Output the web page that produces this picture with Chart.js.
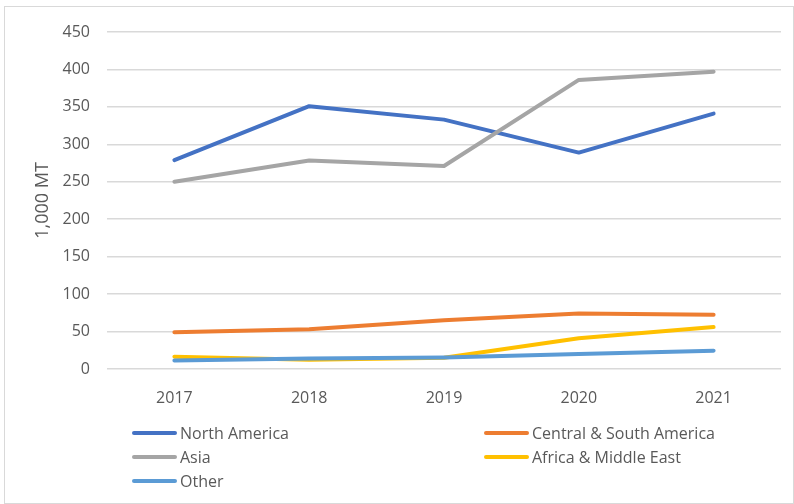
<!DOCTYPE html>
<html>
<head>
<meta charset="utf-8">
<script src="https://cdn.jsdelivr.net/npm/chart.js@4"></script>
<style>
  body { margin: 0; background: #fff; }
  #wrap { position: relative; width: 794px; height: 504px; }
  #frame { position: absolute; left: 4px; top: 6px; width: 790px; height: 498px; border: 1px solid #d9d9d9; box-sizing: border-box; }
  canvas { position: absolute; left: 0; top: 0; }
  #legend { position: absolute; left: 0; top: 0; font-family: "Open Sans", sans-serif; font-size: 16px; color: #595959; }
  .item { position: absolute; display: flex; align-items: center; white-space: nowrap; height: 22px; }
  .item span.swatch { display: inline-block; width: 45px; height: 4px; border-radius: 2px; margin-right: 3px; }
</style>
</head>
<body>
<div id="wrap">
  <div id="frame"></div>
  <canvas id="chart" width="794" height="504"></canvas>
  <div id="legend"></div>
</div>
<script>
// --- Data ---
const years = ['2017', '2018', '2019', '2020', '2021'];
const northAmerica = [279, 351, 333, 289, 341];
const centralSouthAmerica = [49, 53, 65, 74, 72.5];
const asia = [250, 278.5, 271, 386, 397];
const africaMiddleEast = [16.5, 12.5, 15, 41, 56];
const other = [11.5, 14, 15.5, 20, 24.5];

const seriesNames = ['North America', 'Central & South America', 'Asia', 'Africa & Middle East', 'Other'];
const seriesData = [northAmerica, centralSouthAmerica, asia, africaMiddleEast, other];
const seriesColors = ['#4472C4', '#ED7D31', '#A5A5A5', '#FFC000', '#5B9BD5'];

const textColor = '#595959';
const gridColor = '#d9d9d9';
const fontFamily = 'Open Sans';

const datasets = seriesNames.map((name, i) => ({
    label: name,
    data: seriesData[i],
    borderColor: seriesColors[i],
    backgroundColor: seriesColors[i],
    borderWidth: 4,
    pointRadius: 0,
    tension: 0,
    borderCapStyle: 'round',
    borderJoinStyle: 'round',
    order: seriesNames.length - i   // later series drawn on top, like Excel
}));

new Chart(document.getElementById('chart'), {
    type: 'line',
    data: { labels: years, datasets },
    options: {
        responsive: false,
        animation: false,
        layout: { padding: { left: 26, right: 13, top: 32, bottom: 0 } },
        plugins: { legend: { display: false }, tooltip: { enabled: false } },
        scales: {
            x: {
                offset: true,
                grid: { display: false },
                border: { display: false },
                ticks: { color: textColor, font: { family: fontFamily, size: 16 }, padding: 12 },
                afterFit(scale) { scale.height = 135; }
            },
            y: {
                min: 0,
                max: 450,
                ticks: { stepSize: 50, color: textColor, font: { family: fontFamily, size: 16 }, padding: 17 },
                grid: { color: gridColor, lineWidth: 1.5, drawTicks: false },
                border: { display: false },
                title: { display: true, text: '1,000 MT', color: textColor, font: { family: fontFamily, size: 18 }, padding: { top: 6, bottom: 0 } },
                afterFit(scale) { scale.width = 81; }
            }
        }
    }
});

// --- HTML legend, two columns like the original ---
const legend = document.getElementById('legend');
const colX = [132, 484];
const rowY = [433, 457, 481];
seriesNames.forEach((name, i) => {
    const item = document.createElement('div');
    item.className = 'item';
    item.style.left = colX[i % 2] + 'px';
    item.style.top = (rowY[Math.floor(i / 2)] - 11) + 'px';
    item.innerHTML = `<span class="swatch" style="background:${seriesColors[i]}"></span>${name}`;
    legend.appendChild(item);
});
</script>
</body>
</html>
